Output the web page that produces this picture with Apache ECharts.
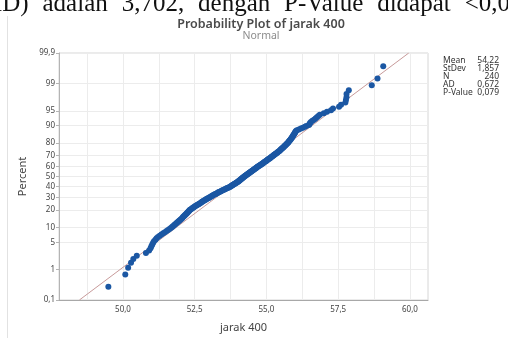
<!DOCTYPE html>
<html>
<head>
<meta charset="utf-8">
<script src="https://cdn.jsdelivr.net/npm/echarts@6/dist/echarts.min.js"></script>
<style>
  html, body { margin: 0; padding: 0; background: #fff; }
  #chart { width: 508px; height: 338px; }
</style>
</head>
<body>
<div id="chart"></div>
<script>
// jarak 400, sorted (240 obs)
const JARAK_400 = [
  49.49, 50.08, 50.18, 50.28, 50.36, 50.48, 50.80, 50.91, 50.96, 50.99,
  51.02, 51.05, 51.08, 51.13, 51.17, 51.22, 51.28, 51.34, 51.40, 51.46,
  51.52, 51.57, 51.62, 51.67, 51.71, 51.74, 51.78, 51.81, 51.85, 51.88,
  51.91, 51.94, 51.97, 52.00, 52.03, 52.06, 52.08, 52.10, 52.13, 52.15,
  52.17, 52.20, 52.22, 52.24, 52.26, 52.28, 52.30, 52.32, 52.34, 52.37,
  52.40, 52.43, 52.45, 52.48, 52.51, 52.54, 52.57, 52.60, 52.63, 52.66,
  52.69, 52.72, 52.75, 52.77, 52.80, 52.83, 52.86, 52.89, 52.91, 52.94,
  52.97, 53.00, 53.02, 53.06, 53.08, 53.11, 53.14, 53.17, 53.20, 53.23,
  53.26, 53.29, 53.32, 53.34, 53.38, 53.41, 53.44, 53.47, 53.51, 53.54,
  53.57, 53.60, 53.63, 53.67, 53.70, 53.73, 53.75, 53.77, 53.80, 53.82,
  53.84, 53.87, 53.89, 53.91, 53.94, 53.96, 53.98, 54.01, 54.02, 54.04,
  54.06, 54.08, 54.09, 54.11, 54.13, 54.15, 54.16, 54.18, 54.20, 54.22,
  54.24, 54.26, 54.28, 54.30, 54.32, 54.34, 54.36, 54.38, 54.40, 54.42,
  54.44, 54.46, 54.48, 54.50, 54.52, 54.54, 54.56, 54.58, 54.60, 54.62,
  54.64, 54.66, 54.68, 54.70, 54.72, 54.75, 54.77, 54.79, 54.81, 54.84,
  54.86, 54.88, 54.90, 54.92, 54.94, 54.97, 54.99, 55.01, 55.03, 55.05,
  55.07, 55.10, 55.12, 55.14, 55.16, 55.18, 55.21, 55.23, 55.25, 55.27,
  55.29, 55.31, 55.33, 55.36, 55.38, 55.40, 55.42, 55.45, 55.47, 55.49,
  55.51, 55.53, 55.55, 55.57, 55.59, 55.61, 55.63, 55.65, 55.67, 55.69,
  55.71, 55.73, 55.75, 55.77, 55.78, 55.80, 55.82, 55.84, 55.85, 55.87,
  55.89, 55.90, 55.92, 55.93, 55.95, 55.97, 55.98, 56.00, 56.01, 56.03,
  56.06, 56.13, 56.20, 56.27, 56.34, 56.39, 56.48, 56.50, 56.52, 56.55,
  56.60, 56.66, 56.71, 56.76, 56.81, 56.86, 57.00, 57.11, 57.25, 57.32,
  57.53, 57.60, 57.75, 57.77, 57.79, 57.79, 57.87, 58.67, 58.87, 59.07
];

const PERCENT_TICKS = [0.1, 1, 5, 10, 20, 30, 40, 50, 60, 70, 80, 90, 95, 99, 99.9];
const X_LABELS = [50, 52.5, 55, 57.5, 60];
const X_GRID = [48.75, 50, 51.25, 52.5, 53.75, 55, 56.25, 57.5, 58.75, 60];

const STAT_NAMES = ["Mean", "StDev", "N", "AD", "P-Value"];
const STAT_VALUES = ["54,22", "1,857", "240", "0,672", "0,079"];
const MEAN = 54.22;
const STDEV = 1.857;

// cut-off (justified) line of document text above the figure
const TOP_WORDS = ["MD)", "adalah", "3,702,", "dengan", "P-Value", "didapat", "<0,0"];

// inverse normal cdf (Acklam)
function probit(p) {
  const a = [-39.6968302866538, 220.946098424521, -275.928510446969, 138.357751867269, -30.6647980661472, 2.50662827745924];
  const b = [-54.4760987982241, 161.585836858041, -155.698979859887, 66.8013118877197, -13.2806815528857];
  const c = [-0.00778489400243029, -0.322396458041136, -2.40075827716184, -2.54973253934373, 4.37466414146497, 2.93816398269878];
  const d = [0.00778469570904146, 0.32246712907004, 2.445134137143, 3.75440866190742];
  const pl = 0.02425;
  let q, r;
  if (p < pl) {
    q = Math.sqrt(-2 * Math.log(p));
    return (((((c[0]*q+c[1])*q+c[2])*q+c[3])*q+c[4])*q+c[5]) / ((((d[0]*q+d[1])*q+d[2])*q+d[3])*q+1);
  }
  if (p > 1 - pl) {
    q = Math.sqrt(-2 * Math.log(1 - p));
    return -(((((c[0]*q+c[1])*q+c[2])*q+c[3])*q+c[4])*q+c[5]) / ((((d[0]*q+d[1])*q+d[2])*q+d[3])*q+1);
  }
  q = p - 0.5; r = q * q;
  return (((((a[0]*r+a[1])*r+a[2])*r+a[3])*r+a[4])*r+a[5])*q / (((((b[0]*r+b[1])*r+b[2])*r+b[3])*r+b[4])*r+1);
}

const n = JARAK_400.length;
// median rank plotting positions, as Minitab does
const points = JARAK_400.map((v, i) => [v, probit((i + 1 - 0.3) / (n + 0.4))]);
const yTickZ = PERCENT_TICKS.map(p => probit(p / 100));
const zMin = yTickZ[0];
const zMax = yTickZ[yTickZ.length - 1];
const fitLine = [[MEAN + zMin * STDEV, zMin], [MEAN + zMax * STDEV, zMax]];

const comma = s => String(s).replace(".", ",");
const font = "'Noto Sans', sans-serif";
const topFont = "25px 'Liberation Serif', serif";

const chart = echarts.init(document.getElementById("chart"), null, { renderer: "canvas" });

const graphic = [
  { type: "line", shape: { x1: 7.5, y1: 16, x2: 7.5, y2: 338 }, style: { stroke: "#e2e2e2", lineWidth: 1 } },
  { type: "text", x: 261, y: 24, style: { text: "Probability Plot of jarak 400", font: "600 12.5px " + font, fill: "#4a4a4a", textAlign: "center", textVerticalAlign: "middle" } },
  { type: "text", x: 261, y: 36, style: { text: "Normal", font: "10.5px " + font, fill: "#8c8c8c", textAlign: "center", textVerticalAlign: "middle" } }
];

// spread the words like a justified line running off both edges
const ctx = document.createElement("canvas").getContext("2d");
ctx.font = topFont;
const widths = TOP_WORDS.map(w => ctx.measureText(w).width);
const gap = (530 - widths.reduce((s, w) => s + w, 0)) / (TOP_WORDS.length - 1);
let tx = -20;
TOP_WORDS.forEach((w, i) => {
  graphic.push({ type: "text", x: tx, y: 4, style: { text: w, font: topFont, fill: "#111", textVerticalAlign: "middle" } });
  tx += widths[i] + gap;
});

STAT_NAMES.forEach((name, i) => {
  const y = 61 + i * 8;
  graphic.push({ type: "text", x: 443, y: y, style: { text: name, font: "8.5px " + font, fill: "#333", textVerticalAlign: "middle" } });
  graphic.push({ type: "text", x: 499, y: y, style: { text: STAT_VALUES[i], font: "8.5px " + font, fill: "#333", textAlign: "right", textVerticalAlign: "middle" } });
});

chart.setOption({
  animation: false,
  backgroundColor: "#fff",
  grid: { left: 59, right: 80, top: 53, bottom: 33, show: true, borderColor: "#d6d6d6", borderWidth: 1 },
  graphic: graphic,
  xAxis: {
    type: "value",
    min: 47.77,
    max: 60.63,
    name: "jarak 400",
    nameLocation: "middle",
    nameGap: 22,
    nameTextStyle: { fontFamily: font, fontSize: 11, color: "#444" },
    axisLine: { show: true, onZero: false, lineStyle: { color: "#a8a8a8" } },
    axisTick: { show: false, customValues: X_GRID },
    axisLabel: { customValues: X_LABELS, formatter: v => comma(v.toFixed(1)), fontFamily: font, fontSize: 8, color: "#444", margin: 6 },
    splitLine: { show: true, lineStyle: { color: "#ececec" } }
  },
  yAxis: {
    type: "value",
    min: zMin,
    max: zMax,
    name: "Percent",
    nameLocation: "middle",
    nameGap: 26,
    nameTextStyle: { fontFamily: font, fontSize: 11, color: "#444" },
    axisLine: { show: true, onZero: false, lineStyle: { color: "#b4b4b4" } },
    axisTick: { show: true, length: 3, customValues: yTickZ, lineStyle: { color: "#b4b4b4" } },
    axisLabel: {
      customValues: yTickZ,
      showMinLabel: true,
      showMaxLabel: true,
      formatter: v => {
        let best = 0;
        yTickZ.forEach((z, i) => { if (Math.abs(z - v) < Math.abs(yTickZ[best] - v)) best = i; });
        return comma(PERCENT_TICKS[best]);
      },
      fontFamily: font, fontSize: 8, color: "#444", margin: 4
    },
    splitLine: { show: true, lineStyle: { color: "#ececec" } }
  },
  series: [
    {
      type: "line",
      data: fitLine,
      symbol: "none",
      lineStyle: { color: "#c79a9a", width: 1 },
      silent: true,
      z: 1
    },
    {
      type: "scatter",
      data: points,
      symbol: "circle",
      symbolSize: 6,
      itemStyle: { color: "#1b57a3", opacity: 1 },
      z: 2
    }
  ]
});
</script>
</body>
</html>
